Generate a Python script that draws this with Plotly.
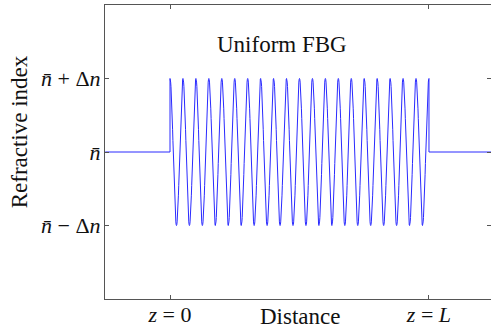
import numpy as np
import plotly.graph_objects as go

# ---- data ----
n_bar = 0.0            # mean refractive index (normalised)
delta_n = 1.0          # index modulation depth (normalised)
grating_start = 0.0    # z = 0
grating_periods = 20   # number of grating periods, z = L
lead_in = -5.0
lead_out = 25.0
samples_per_period = 40

x_tick_vals = [0, 20]
x_tick_text = ["<i>z</i> = 0", "<i>z</i> = <i>L</i>"]
y_tick_vals = [-1, 0, 1]
y_tick_text = ["<i>n\u0304</i> \u2212 \u0394<i>n</i>", "<i>n\u0304</i>",
               "<i>n\u0304</i> + \u0394<i>n</i>"]

# build profile: flat, modulated grating, flat
L = grating_start + grating_periods
zg = np.linspace(grating_start, L, grating_periods * samples_per_period + 1)
ng = n_bar + delta_n * np.cos(2 * np.pi * (zg - grating_start))
z = np.concatenate([[lead_in, grating_start], zg, [L, lead_out]])
n = np.concatenate([[n_bar, n_bar], ng, [n_bar, n_bar]])

fig = go.Figure()
fig.add_trace(go.Scatter(x=z, y=n, mode="lines",
                         line=dict(color="#2a2aff", width=1),
                         hoverinfo="skip", showlegend=False))

axis_col = "#555555"
fam = "Liberation Serif"
font = dict(family=fam, size=23, color="#111111")
tfont = dict(family=fam, size=22, color="#111111")

fig.update_layout(
    width=491, height=334,
    margin=dict(l=105, r=0, t=5, b=35),
    paper_bgcolor="white", plot_bgcolor="white",
    font=font,
    xaxis=dict(range=[-5.02, 24.79], showgrid=False, zeroline=False,
               showline=True, linecolor=axis_col, linewidth=1, mirror="ticks",
               ticks="inside", ticklen=4, tickcolor=axis_col,
               tickvals=x_tick_vals, ticktext=x_tick_text, tickfont=tfont,
               ticklabelstandoff=-4),
    yaxis=dict(range=[-2.0, 2.0], showgrid=False, zeroline=False,
               showline=True, linecolor=axis_col, linewidth=1, mirror="ticks",
               ticks="inside", ticklen=4, tickcolor=axis_col,
               tickvals=y_tick_vals, ticktext=y_tick_text, tickfont=tfont,
               ticklabelstandoff=-1),
    annotations=[
        dict(text="Uniform FBG", xref="paper", yref="paper", x=0.459, y=0.867,
             showarrow=False, font=font, xanchor="center", yanchor="middle"),
        dict(text="Distance", xref="paper", yref="paper", x=0.505, y=-0.058,
             showarrow=False, font=font, xanchor="center", yanchor="middle"),
        dict(text="Refractive index", xref="paper", yref="paper", x=-0.222, y=0.568,
             showarrow=False, font=dict(family=fam, size=23, color="#111111"),
             textangle=-90, xanchor="center", yanchor="middle"),
    ],
)

fig.write_html("out.html")
